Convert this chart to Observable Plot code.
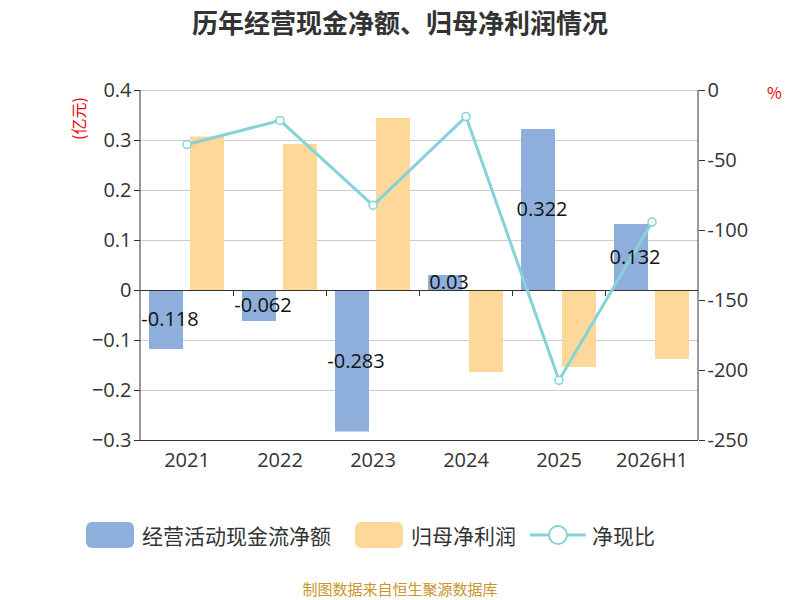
<!DOCTYPE html><html><head><meta charset="utf-8">
<script src="https://cdn.jsdelivr.net/npm/d3@7"></script>
<script src="https://cdn.jsdelivr.net/npm/@observablehq/plot@0.6"></script>
<style>body{margin:0;font-family:"Noto Sans CJK SC","Noto Sans",sans-serif;}#w{position:relative;width:800px;height:600px;}
.a{position:absolute;white-space:nowrap}</style></head><body><div id="w">
<div class="a" style="top:3px;width:800px;text-align:center;font-size:26px;font-weight:bold;color:#333">历年经营现金净额、归母净利润情况</div>
<div class="a" style="left:66px;color:#e00;font-size:16px;transform:rotate(-90deg);transform-origin:left top;top:140px">(亿元)</div>
<div class="a" style="left:767px;top:80px;color:#e00;font-size:16px">%</div>
<div id="c" class="a" style="left:0;top:0"></div>
<div class="a" style="top:520px;left:86px;font-size:21px;color:#333;display:flex;align-items:center;gap:0">
<span style="display:inline-block;width:48px;height:26px;background:#8eaedb;border-radius:6px;margin-right:8px"></span>经营活动现金流净额
<span style="display:inline-block;width:48px;height:26px;background:#fdd898;border-radius:6px;margin:0 8px 0 24px"></span>归母净利润
<svg width="56" height="26" style="margin:0 6px 0 14px"><line x1="0" y1="13" x2="56" y2="13" stroke="#85d3d8" stroke-width="3"/><circle cx="28" cy="13" r="9" fill="#fff" stroke="#85d3d8" stroke-width="2"/></svg>净现比</div>
<div class="a" style="top:578px;width:800px;text-align:center;font-size:15px;color:#c8962a">制图数据来自恒生聚源数据库</div>
</div>
<script>
const years=["2021","2022","2023","2024","2025","2026H1"];
const cashFlow=[-0.118,-0.062,-0.283,0.03,0.322,0.132];
const profit=[0.307,0.292,0.344,-0.164,-0.154,-0.138];
const ratio=[-38.6,-21.4,-82,-18.6,-207,-94];
const rightTicks=[0,-50,-100,-150,-200,-250];
const toL=v=>-0.3+(v+250)/250*0.7, toR=y=>(y+0.3)/0.7*250-250;
const d=years.map((y,i)=>({y,c:cashFlow[i],p:profit[i],r:toL(ratio[i])}));
const plot=Plot.plot({width:800,height:490,marginLeft:140,marginRight:102,marginTop:90,marginBottom:50,
style:{fontSize:"20px",fontFamily:"Open Sans,Noto Sans CJK SC,sans-serif",color:"#333",background:"transparent"},
x:{domain:years,padding:0,label:null},
y:{domain:[-0.3,0.4],label:null},
marks:[
Plot.gridY([-0.3,-0.2,-0.1,0,0.1,0.2,0.3,0.4],{stroke:"#ccc",strokeOpacity:1}),
Plot.barY(d,{x:"y",y:"c",fill:"#8eaedb",insetLeft:9,insetRight:50}),
Plot.barY(d,{x:"y",y:"p",fill:"#fdd898",insetLeft:50,insetRight:9}),
Plot.ruleY([0],{stroke:"#333"}),
Plot.ruleX(years.slice(1),{x:d=>d,y1:-0.012,y2:0,stroke:"#333",dx:-46.5}),
Plot.axisY({anchor:"left",ticks:[-0.3,-0.2,-0.1,0,0.1,0.2,0.3,0.4],tickFormat:d=>d==0?"0":d3.format(".1f")(d),tickSize:6,fontSize:20,label:null}),
Plot.axisY({anchor:"right",ticks:rightTicks.map(toL),tickFormat:y=>String(Math.round(toR(y))),tickSize:6,fontSize:20,label:null}),
Plot.ruleY([-0.3],{stroke:"#333"}),
Plot.axisX({tickSize:0,fontSize:20,label:null,tickPadding:12}),
Plot.line(d,{x:"y",y:"r",stroke:"#85d3d8",strokeWidth:3}),
Plot.dot(d,{x:"y",y:"r",r:4,fill:"#fff",stroke:"#85d3d8",strokeWidth:1.5}),
Plot.text(d,{x:"y",y:d=>d.c/2,text:d=>String(d.c),dx:-17,fontSize:20,fill:"#111"})
]});
d3.select(plot).append("line").attr("x1",140).attr("x2",140).attr("y1",90).attr("y2",440).attr("stroke","#333");
d3.select(plot).append("line").attr("x1",698).attr("x2",698).attr("y1",90).attr("y2",440).attr("stroke","#333");
document.getElementById("c").appendChild(plot);
</script></body></html>
